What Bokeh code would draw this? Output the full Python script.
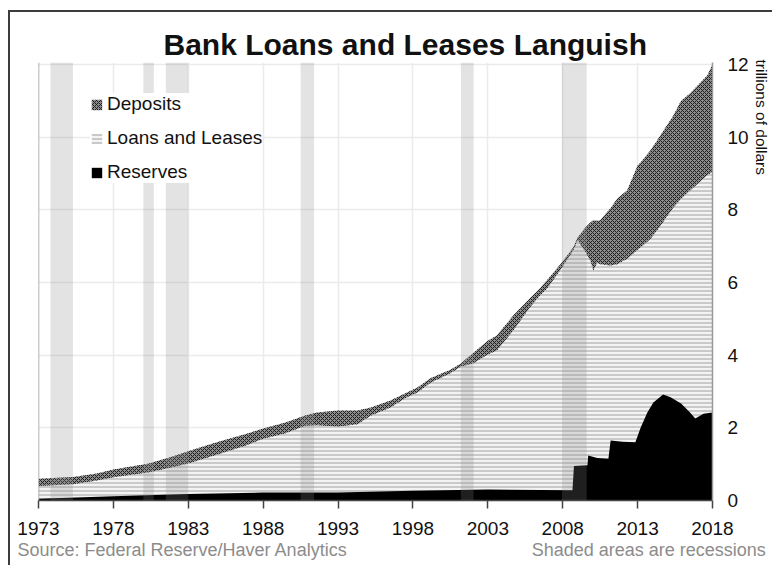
from bokeh.plotting import figure
from bokeh.models import Range1d, FixedTicker, Legend, LegendItem, Span, BoxAnnotation, Title
from bokeh.embed import file_html
from bokeh.resources import INLINE

# ---------------- data (trillions of dollars) ----------------
years = [1973.0, 1975.3, 1976.9, 1978.0, 1980.3, 1981.8, 1983.1, 1984.9, 1986.9, 1988.0,
         1989.5, 1990.8, 1991.6, 1993.0, 1994.3, 1995.2, 1996.5, 1997.5, 1998.3, 1999.2,
         2000.5, 2001.2, 2002.0, 2003.0, 2003.6, 2004.7, 2005.8, 2006.5, 2006.95, 2007.85,
         2008.7, 2009.0, 2009.5, 2009.85, 2010.05, 2010.3, 2010.5, 2011.2, 2011.65, 2012.05,
         2012.3, 2013.0, 2013.2, 2013.85, 2014.3, 2015.4, 2015.9, 2016.5, 2017.65, 2018.0]
deposits = [0.60, 0.65, 0.74, 0.85, 1.01, 1.19, 1.37, 1.60, 1.84, 1.98,
            2.15, 2.34, 2.42, 2.48, 2.48, 2.56, 2.75, 2.95, 3.11, 3.37,
            3.60, 3.77, 4.05, 4.40, 4.54, 5.09, 5.56, 5.85, 6.06, 6.50,
            6.96, 7.24, 7.51, 7.65, 7.71, 7.70, 7.71, 8.05, 8.31, 8.45,
            8.53, 9.22, 9.30, 9.63, 9.91, 10.60, 11.00, 11.20, 11.70, 12.00]
loans = [0.40, 0.45, 0.55, 0.64, 0.77, 0.90, 1.03, 1.26, 1.52, 1.70,
         1.85, 2.06, 2.07, 2.04, 2.10, 2.34, 2.56, 2.82, 2.97, 3.25,
         3.50, 3.69, 3.77, 4.02, 4.13, 4.68, 5.31, 5.65, 5.83, 6.35,
         6.88, 7.16, 6.85, 6.60, 6.33, 6.55, 6.50, 6.47, 6.50, 6.60,
         6.65, 6.90, 6.96, 7.20, 7.43, 8.07, 8.30, 8.53, 8.95, 9.05]

res_years = [1973.0, 1978.0, 1983.0, 1988.0, 1993.0, 1998.0, 2003.0, 2008.65, 2008.75, 2009.65,
             2009.7, 2010.3, 2011.05, 2011.2, 2012.0, 2012.85, 2013.2, 2013.65, 2014.05, 2014.7,
             2015.2, 2015.9, 2016.5, 2016.85, 2017.4, 2018.0]
reserves = [0.05, 0.12, 0.18, 0.22, 0.22, 0.27, 0.30, 0.28, 0.95, 0.97,
            1.24, 1.17, 1.15, 1.65, 1.62, 1.60, 2.00, 2.42, 2.70, 2.92,
            2.84, 2.67, 2.42, 2.26, 2.39, 2.42]

recession_start = [1973.8, 1980.0, 1981.5, 1990.5, 2001.2, 2007.95]
recession_end = [1975.3, 1980.7, 1983.0, 1991.4, 2002.05, 2009.6]

x_ticks = [1973, 1978, 1983, 1988, 1993, 1998, 2003, 2008, 2013, 2018]
y_ticks = [0, 2, 4, 6, 8, 10, 12]

title_text = "Bank Loans and Leases Languish"
y_title = "trillions of dollars"
source_text = "Source: Federal Reserve/Haver Analytics"
note_text = "Shaded areas are recessions"
series_names = ["Deposits", "Loans and Leases", "Reserves"]

FONT = "Liberation Sans"

# ---------------- figure ----------------
frame_css = {
    "background-image": "linear-gradient(#3c3c3c, #3c3c3c), linear-gradient(#3c3c3c, #3c3c3c)",
    "background-size": "2px 100%, 100% 2px",
    "background-position": "8px 10px, 8px 10px",
    "background-repeat": "no-repeat",
}
p = figure(width=772, height=565, output_backend="svg", toolbar_location=None,
           x_range=Range1d(1973, 2018), y_range=Range1d(0, 12.055),
           y_axis_location="right", styles=frame_css,
           min_border_left=38, min_border_right=60, min_border_top=62, min_border_bottom=65)
p.outline_line_color = None
p.background_fill_color = "white"
p.border_fill_color = None

# title
p.title.text = title_text
p.title.align = "left"
p.title.offset = 125
p.title.standoff = 3
p.title.text_font = FONT
p.title.text_font_size = "30px"
p.title.text_font_style = "bold"
p.title.text_color = "#111111"

# axes
p.xaxis.ticker = FixedTicker(ticks=x_ticks)
p.xaxis.minor_tick_line_color = None
p.xaxis.major_tick_in = 0
p.xaxis.major_tick_out = 8
p.xaxis.major_tick_line_color = "#444444"
p.xaxis.major_tick_line_width = 1.5
p.xaxis.axis_line_color = "#444444"
p.xaxis.axis_line_width = 1.5
p.xaxis.major_label_text_font = FONT
p.xaxis.major_label_text_font_size = "19px"
p.xaxis.major_label_text_color = "#111111"
p.xaxis.major_label_standoff = 13

p.yaxis.ticker = FixedTicker(ticks=y_ticks)
p.yaxis.minor_tick_line_color = None
p.yaxis.major_tick_in = 0
p.yaxis.major_tick_out = 0
p.yaxis.axis_line_color = "#999999"
p.yaxis.axis_line_width = 1.5
p.yaxis.major_label_text_font = FONT
p.yaxis.major_label_text_font_size = "19px"
p.yaxis.major_label_text_color = "#111111"
p.yaxis.major_label_standoff = 15

p.xgrid.grid_line_color = "#ebebeb"
p.xgrid.grid_line_width = 1.5
p.ygrid.grid_line_color = "#ebebeb"
p.ygrid.grid_line_width = 1.5

p.add_layout(Span(location=1973, dimension="height", line_color="#999999", line_width=1.5))

# y-axis title on the right, reading top to bottom
p.add_layout(Title(text=y_title, align="left", offset=-3, standoff=2, text_font=FONT,
                   text_font_size="15.5px", text_font_style="normal", text_color="#111111"),
             "right")

# source (left) and recession note (right) on one bottom line
gap = "\u00a0" * 37
p.add_layout(Title(text=source_text + gap + note_text, align="left", offset=-21, standoff=0,
                   text_font=FONT, text_font_size="18px", text_font_style="normal",
                   text_color="#8c8c8c"),
             "below")

# areas
r_loans = p.varea(x=years, y1=0, y2=loans, fill_color="#f3f3f3",
                  hatch_pattern="horizontal_line", hatch_color="#a0a0a0",
                  hatch_scale=4, hatch_weight=1)
r_dep = p.varea(x=years, y1=loans, y2=deposits, fill_color="#8c8c8c",
                hatch_pattern="diagonal_cross", hatch_color="#1e1e1e",
                hatch_scale=4, hatch_weight=1)
r_res = p.varea(x=res_years, y1=0, y2=reserves, fill_color="black")

# recession shading (drawn over the data)
for a, b in zip(recession_start, recession_end):
    p.add_layout(BoxAnnotation(left=a, right=b, fill_color="#848484", fill_alpha=0.23,
                               line_color=None))

legend = Legend(items=[LegendItem(label=series_names[0], renderers=[r_dep]),
                       LegendItem(label=series_names[1], renderers=[r_loans]),
                       LegendItem(label=series_names[2], renderers=[r_res])],
                location=(52, 317))
legend.label_text_font = FONT
legend.label_text_font_size = "19px"
legend.label_text_color = "#111111"
legend.label_height = 22
legend.glyph_height = 13
legend.glyph_width = 13
legend.label_standoff = 4
legend.spacing = 12
legend.padding = 6
legend.margin = 0
legend.border_line_color = None
legend.background_fill_color = "white"
legend.background_fill_alpha = 1.0
p.add_layout(legend)

open("out.html", "w").write(file_html(p, INLINE))
